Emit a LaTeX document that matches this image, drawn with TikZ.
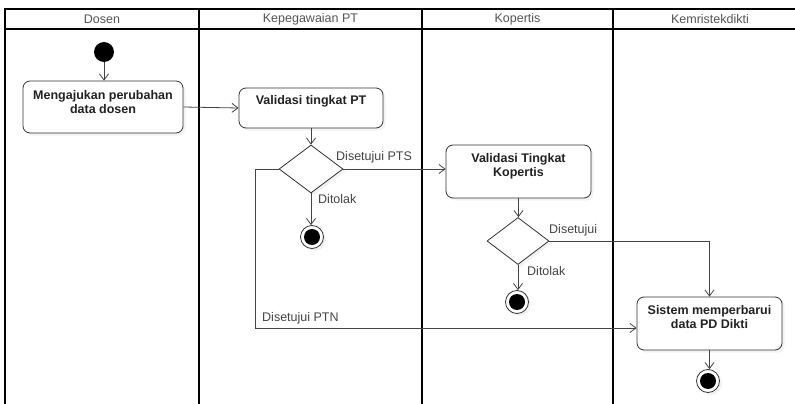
\documentclass[tikz,border=0pt]{standalone}
\usepackage{fontspec}
\setmainfont{Liberation Sans}
\usetikzlibrary{arrows.meta,shapes.geometric,shadows}

\definecolor{flowgray}{HTML}{444444}
\definecolor{headgray}{HTML}{555555}
\definecolor{textgray}{HTML}{222222}

\begin{document}
\begin{tikzpicture}[x=1pt,y=-1pt,
  lane/.style={draw=black,line width=1.6pt},
  flow/.style={draw=flowgray,line width=0.8pt,-{Straight Barb[length=6pt,width=9pt]}},
  flowline/.style={draw=flowgray,line width=0.8pt},
  shade/.style={drop shadow={shadow xshift=2.5pt,shadow yshift=-2.5pt,fill=black!10}},
  action/.style={rectangle,rounded corners=7pt,draw=black!80,line width=0.8pt,fill=white,shade,inner sep=0pt},
  acttext/.style={anchor=north,align=center,inner sep=0pt,font=\bfseries\fontsize{12.5}{13.2}\selectfont,text=textgray},
  decision/.style={diamond,draw=black!80,line width=0.8pt,fill=white,shade,inner sep=0pt,minimum width=64pt,minimum height=48pt},
  guard/.style={anchor=west,inner sep=0pt,font=\fontsize{12.5}{14}\selectfont,text=flowgray},
  header/.style={inner sep=0pt,font=\fontsize{12.5}{14}\selectfont,text=headgray},
  initnode/.style={circle,fill=black,minimum size=20pt,inner sep=0pt},
  finalnode/.style={circle,draw=black!80,line width=0.8pt,fill=white,shade,minimum size=23pt,inner sep=0pt,
    path picture={\fill[black] (path picture bounding box.center) circle (8pt);}}]

   \useasboundingbox (0,0) rectangle (795,404);

   % swimlanes
   \draw[lane] (5,404) -- (5,9) -- (795,9);
   \draw[lane,line width=1.1pt] (5,29) -- (795,29);
   \foreach \x in {199,422,613}
    \draw[lane] (\x,9) -- (\x,404);

   \node[header] (hDosen) at (102,19) {Dosen};
   \node[header] (hKepeg) at (310.5,19) {Kepegawaian PT};
   \node[header] (hKopertis) at (517.5,19) {Kopertis};
   \node[header] (hKemris) at (710,19) {Kemristekdikti};

   % activities
   \node[initnode] (init) at (104,52) {};
   \node[action,minimum width=160pt,minimum height=52pt,
     label={[acttext,yshift=-10pt]north:{Mengajukan perubahan\\data dosen}}] (ajukan) at (103,107) {};
   \node[action,minimum width=144pt,minimum height=40pt,
     label={[acttext,yshift=-8pt]north:{Validasi tingkat PT}}] (valPT) at (311,108) {};
   \node[decision] (dPT) at (311,169) {};
   \node[finalnode] (endPT) at (312,237) {};
   \node[action,minimum width=145pt,minimum height=53pt,
     label={[acttext,yshift=-9pt]north:{Validasi Tingkat\\Kopertis}}] (valKop) at (518.5,171.5) {};
   \node[decision,minimum width=62pt,minimum height=47pt] (dKop) at (518,241) {};
   \node[finalnode] (endKop) at (517,302) {};
   \node[action,minimum width=145pt,minimum height=53pt,
     label={[acttext,yshift=-9pt]north:{Sistem memperbarui\\data PD Dikti}}] (update) at (709.5,323.5) {};
   \node[finalnode] (endDikti) at (708,381) {};

   \coordinate (bendPTN) at (255,328);

   % guards
   \node[guard] (gPTS) at (336,157) {Disetujui PTS};
   \node[guard] (gTolakPT) at (318,199) {Ditolak};
   \node[guard] (gPTN) at (262,318) {Disetujui PTN};
   \node[guard] (gSetuju) at (549,230) {Disetujui};
   \node[guard] (gTolakKop) at (527,271) {Ditolak};

   % flows
   \draw[flow] (init) -- (init |- ajukan.north);
   \draw[flow] (ajukan.east) -- (valPT.west);
   \draw[flow] (valPT.south) -- (dPT.north);
   \draw[flow] (dPT.east) -- (dPT.east -| valKop.west);
   \draw[flow] (dPT.south) -- (dPT.south |- endPT.north);
   \draw[flowline] (dPT.west) -| (bendPTN);
   \draw[flow] (bendPTN) -- (bendPTN -| update.west);
   \draw[flow] (valKop.south) -- (valKop.south |- dKop.north);
   \draw[flow] (dKop.east) -| (update.north);
   \draw[flow] (dKop.south) -- (dKop.south |- endKop.north);
   \draw[flow] (update.south) -- (update.south |- endDikti.north);
\end{tikzpicture}
\end{document}
